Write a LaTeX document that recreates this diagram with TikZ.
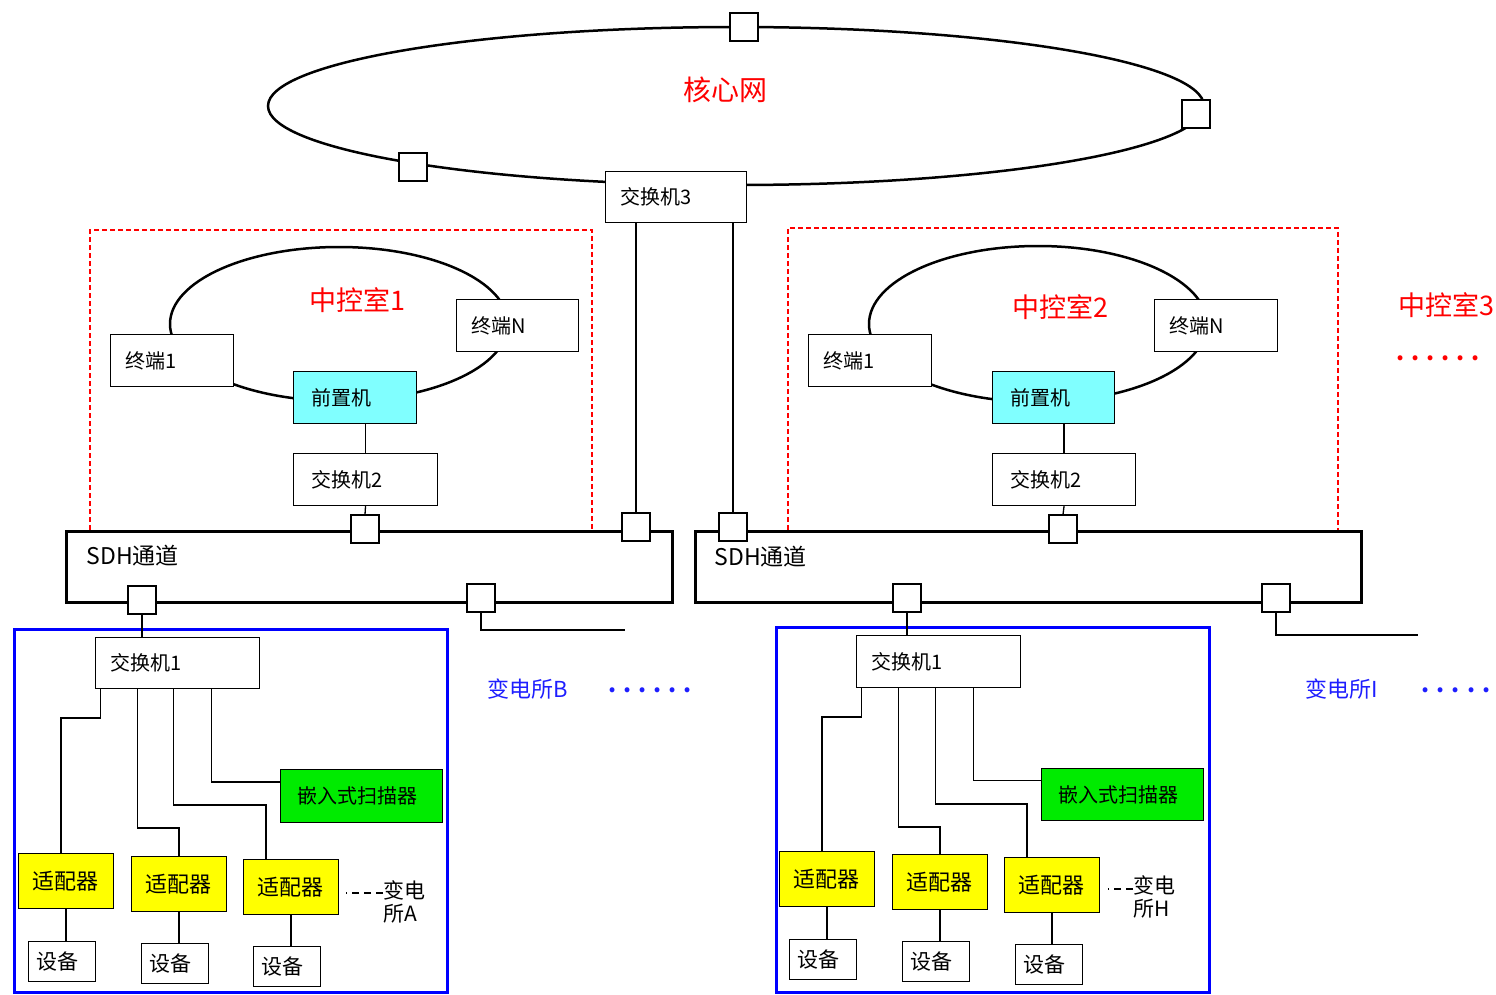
\documentclass[tikz,border=0pt]{standalone}
\usepackage{fontspec}
\setmainfont{Noto Sans CJK SC}
\usetikzlibrary{shapes.geometric}

\definecolor{frontcyan}{RGB}{128,255,255}
\definecolor{adaptyellow}{RGB}{255,255,0}
\definecolor{scangreen}{RGB}{0,235,0}
\definecolor{labelblue}{RGB}{30,30,255}

\begin{document}
\begin{tikzpicture}[x=1pt, y=-1pt,
    box/.style={draw, fill=white, line width=1.1pt, anchor=north west, inner xsep=15pt, inner ysep=0pt,
      minimum height=52pt, align=left, font=\fontsize{20}{24}\selectfont},
    adapter/.style={box, fill=adaptyellow, inner xsep=14pt, text width=67pt, minimum height=55pt,
      font=\fontsize{22}{26}\selectfont},
    device/.style={box, inner xsep=8pt, text width=51pt, minimum height=40pt, font=\fontsize{21}{24}\selectfont},
    port/.style={draw, fill=white, line width=1.1pt, minimum size=28pt, inner sep=0pt},
    ring/.style={draw, ellipse, line width=2.5pt, inner sep=0pt},
    sdh/.style={draw, line width=3pt, anchor=north west, inner sep=0pt},
    trunk/.style={line width=2.6pt},
    wire/.style={line width=1.3pt},
    room/.style={red, line width=1.1pt, dash pattern=on 5pt off 3pt},
    site/.style={blue, line width=3pt},
    dashline/.style={line width=2.8pt, dash pattern=on 7pt off 5pt},
    redtitle/.style={red, font=\fontsize{27}{30}\selectfont},
    bluetitle/.style={labelblue, font=\fontsize{22}{26}\selectfont},
    dots/.style={font=\bfseries\fontsize{23}{26}\selectfont, inner sep=0pt},
  ]
  \useasboundingbox (0,0) rectangle (1496,995);

  % Core network
  \node[ring, minimum width=936pt, minimum height=158pt] (core) at (736,106) {};
  \node[redtitle, font=\fontsize{28}{30}\selectfont] (coretxt) at (725,90) {核心网};
  \node[port] (pc1) at (744,27) {};
  \node[port] (pc2) at (1196,114) {};
  \node[port] (pc3) at (413,167) {};
  \node[box, text width=111pt, minimum height=51pt] (sw3) at (605,171) {交换机3};

  % Control room 1
  \draw[room] (90,530) |- (592,230) -- (592,530);
  \node[ring, minimum width=338pt, minimum height=154pt] (ring1) at (339,324) {};
  \node[redtitle] (cr1) at (357,300) {中控室1};
  \node[box, text width=93pt] (t1a) at (110,334) {终端1};
  \node[box, text width=92pt] (tna) at (456,299) {终端N};
  \node[box, fill=frontcyan, inner xsep=18pt, text width=87pt] (fea) at (293,371) {前置机};
  \node[box, inner xsep=18pt, text width=108pt] (sw2a) at (293,453) {交换机2};
  \draw[wire] (sw2a.north) -- (sw2a.north |- fea.south);

  % SDH channel (left)
  \node[sdh, minimum width=606pt, minimum height=71pt] (sdha) at (65,530) {};
  \node[anchor=west, font=\fontsize{23}{26}\selectfont] (sdhatxt) at (83,556) {SDH通道};
  \node[port] (pa1) at (365,529) {};
  \node[port] (pa2) at (636,527) {};
  \node[port] (pa3) at (142,600) {};
  \node[port] (pa4) at (481,598) {};
  \draw[wire] (pa1.north) -- (sw2a.south);
  \draw[trunk] (pa2.north) -- (pa2.north |- sw3.south);
  \coordinate (endb) at (625,630);
  \draw[wire] (pa4.south) |- (endb);

  % Substation A
  \draw[site] (14,629) rectangle (447,992);
  \node[box, text width=134pt, minimum height=51pt] (swa) at (95,637) {交换机1};
  \draw[wire] (pa3.south) -- (pa3.south |- swa.north);
  \node[box, fill=scangreen, inner xsep=17pt, text width=128pt, minimum height=53pt] (sca) at (280,769) {嵌入式扫描器};
  \node[adapter] (aa1) at (18,853) {适配器};
  \node[adapter] (aa2) at (131,856) {适配器};
  \node[adapter] (aa3) at (243,859) {适配器};
  \node[device] (da1) at (28,941) {设备};
  \node[device] (da2) at (141,943) {设备};
  \node[device] (da3) at (253,946) {设备};
  \draw[wire] ([xshift=-77pt]swa.south) -- ++(0,29) -| ([xshift=-5pt]aa1.north);
  \draw[wire] ([xshift=-40pt]swa.south) -- ++(0,139) -| (aa2.north);
  \draw[wire] ([xshift=-4pt]swa.south) -- ++(0,116) -| ([xshift=-25pt]aa3.north);
  \draw[wire] ([xshift=34pt]swa.south) |- ([yshift=14pt]sca.west);
  \draw[wire] (aa1.south) -- (aa1.south |- da1.north);
  \draw[wire] (aa2.south) -- (aa2.south |- da2.north);
  \draw[wire] (aa3.south) -- (aa3.south |- da3.north);
  \node[anchor=north west, align=left, inner sep=0pt, font=\fontsize{21}{23}\selectfont] (sta) at (383,880) {变电\\所A};
  \draw[dashline] ([yshift=-13pt]sta.north west) -- ++(-37,0);

  % Substation B
  \node[bluetitle] (stb) at (528,689) {变电所B};
  \node[dots, labelblue] (stbdots) at (650,690) {. . . . . .};

  % Control room 2
  \draw[room] (788,530) |- (1338,228) -- (1338,530);
  \node[ring, minimum width=338pt, minimum height=156pt] (ring2) at (1038,324) {};
  \node[redtitle] (cr2) at (1060,307) {中控室2};
  \node[box, text width=93pt] (t1b) at (808,334) {终端1};
  \node[box, text width=93pt] (tnb) at (1154,299) {终端N};
  \node[box, fill=frontcyan, inner xsep=18pt, text width=86pt] (feb) at (992,371) {前置机};
  \node[box, inner xsep=18pt, text width=107pt] (sw2b) at (992,453) {交换机2};
  \draw[wire] (sw2b.north) -- (sw2b.north |- feb.south);

  % Control room 3
  \node[redtitle] (cr3) at (1446,305) {中控室3};
  \node[dots, red] (cr3dots) at (1438,358) {. . . . . .};

  % SDH channel (right)
  \node[sdh, minimum width=666pt, minimum height=71pt] (sdhb) at (694,530) {};
  \node[anchor=west, font=\fontsize{23}{26}\selectfont] (sdhbtxt) at (711,557) {SDH通道};
  \node[port] (pb1) at (733,527) {};
  \node[port] (pb2) at (1063,529) {};
  \node[port] (pb3) at (907,598) {};
  \node[port] (pb4) at (1276,598) {};
  \draw[trunk] (pb1.north) -- (pb1.north |- sw3.south);
  \draw[wire] (pb2.north) -- (sw2b.south);
  \coordinate (endi) at (1418,635);
  \draw[wire] (pb4.south) |- (endi);

  % Substation H
  \draw[site] (776,627) rectangle (1209,992);
  \node[box, text width=134pt] (swh) at (856,635) {交换机1};
  \draw[wire] (pb3.south) -- (pb3.south |- swh.north);
  \node[box, fill=scangreen, inner xsep=17pt, text width=128pt] (sch) at (1041,768) {嵌入式扫描器};
  \node[adapter] (ah1) at (779,851) {适配器};
  \node[adapter] (ah2) at (892,854) {适配器};
  \node[adapter] (ah3) at (1004,857) {适配器};
  \node[device] (dh1) at (789,939) {设备};
  \node[device] (dh2) at (902,941) {设备};
  \node[device] (dh3) at (1015,944) {设备};
  \draw[wire] ([xshift=-77pt]swh.south) -- ++(0,29) -| ([xshift=-5pt]ah1.north);
  \draw[wire] ([xshift=-40pt]swh.south) -- ++(0,139) -| (ah2.north);
  \draw[wire] ([xshift=-3pt]swh.south) -- ++(0,116) -| ([xshift=-25pt]ah3.north);
  \draw[wire] ([xshift=35pt]swh.south) |- ([yshift=14pt]sch.west);
  \draw[wire] (ah1.south) -- (ah1.south |- dh1.north);
  \draw[wire] (ah2.south) -- (ah2.south |- dh2.north);
  \draw[wire] (ah3.south) -- (ah3.south |- dh3.north);
  \node[anchor=north west, align=left, inner sep=0pt, font=\fontsize{21}{23}\selectfont] (sth) at (1133,875) {变电\\所H};
  \draw[dashline] ([yshift=-14pt]sth.north west) -- ++(-25,0);

  % Substation I
  \node[bluetitle] (sti) at (1342,689) {变电所I};
  \node[dots, labelblue] (stidots) at (1456,690) {. . . . .};
\end{tikzpicture}
\end{document}
